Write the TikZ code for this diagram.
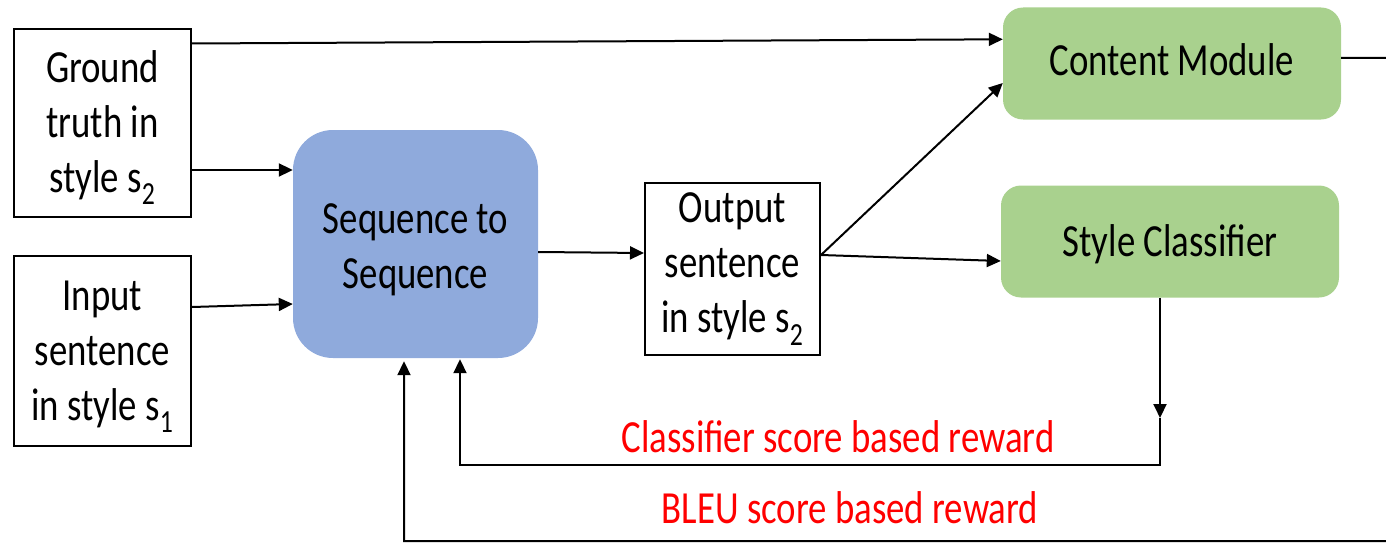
\documentclass[tikz,border=0pt]{standalone}
\usepackage{fontspec}
\setmainfont{Carlito}[FakeStretch=0.8]
\usetikzlibrary{arrows.meta}
\definecolor{seqblue}{HTML}{8FAADC}
\definecolor{modgreen}{HTML}{A9D18E}
\newcommand{\toppad}{\rule{0pt}{41pt}}
\tikzset{%
    plainbox/.style={draw, line width=2pt, align=center, inner sep=0pt},
    seqbox/.style={fill=seqblue, rounded corners=40pt, align=center},
    modbox/.style={fill=modgreen, rounded corners=20pt, align=center,
        minimum width=338pt, minimum height=112pt},
    arr/.style={-{Triangle[length=14pt,width=13pt]}, line width=2pt},
    reward/.style={text=red}
}

\begin{document}
\begin{tikzpicture}[x=1pt,y=-1pt,font=\fontsize{46}{55}\selectfont]
    \useasboundingbox (0,0) rectangle (1386,543);
    % inputs
    \node[plainbox, minimum width=177pt, minimum height=187pt] (gt) at (102.5,123)
        {\toppad Ground\\truth in\\style s\textsubscript{2}};
    \node[plainbox, minimum width=177pt, minimum height=190pt] (inp) at (102.5,351)
        {\toppad Input\\sentence\\in style s\textsubscript{1}};
    % model and output
    \node[seqbox, minimum width=245pt, minimum height=228pt] (seq) at (415.5,244)
        {\toppad Sequence to\\Sequence};
    \node[plainbox, minimum width=175pt, minimum height=172pt] (out) at (732.5,269)
        {Output\\sentence\\in style s\textsubscript{2}};
    % evaluators
    \node[modbox, text depth=7pt] (cm) at (1172,63.5) {Content Module};
    \node[modbox, text depth=1pt] (sc) at (1170,241.5) {Style Classifier};
    \node[reward] (clsreward) at (838,437) {Classifier score based reward};
    \node[reward] (bleureward) at (850,508) {BLEU score based reward};
    \coordinate (bleuturn) at (1400,541);
    \coordinate (clsturn) at (1160,418);

    \draw[arr] ([yshift=-15pt]gt.north east) -- ([yshift=-32pt]cm.north west);
    \draw[arr] ([yshift=-47pt]gt.east) -- ([yshift=74pt]seq.west);
    \draw[arr] ([yshift=44pt]inp.east) -- ([yshift=-60pt]seq.west);
    \draw[arr] ([yshift=-8pt]seq.east) -- ([yshift=16pt]out.west);
    \draw[arr] ([yshift=14pt]out.east) -- ([yshift=-19.5pt]cm.west);
    \draw[arr] ([yshift=14pt]out.east) -- ([yshift=-19.5pt]sc.west);
    % reward loops
    \draw[arr] ([yshift=5.5pt]cm.east) -- ++(59,0) -- (bleuturn)
        -| ([xshift=-11.5pt,yshift=-3pt]seq.south);
    \draw[arr] ([xshift=-10pt]sc.south) -- (clsturn);
    \draw[arr] (clsturn) -- (1160,465) -| ([xshift=44.5pt,yshift=-1pt]seq.south);
\end{tikzpicture}
\end{document}
